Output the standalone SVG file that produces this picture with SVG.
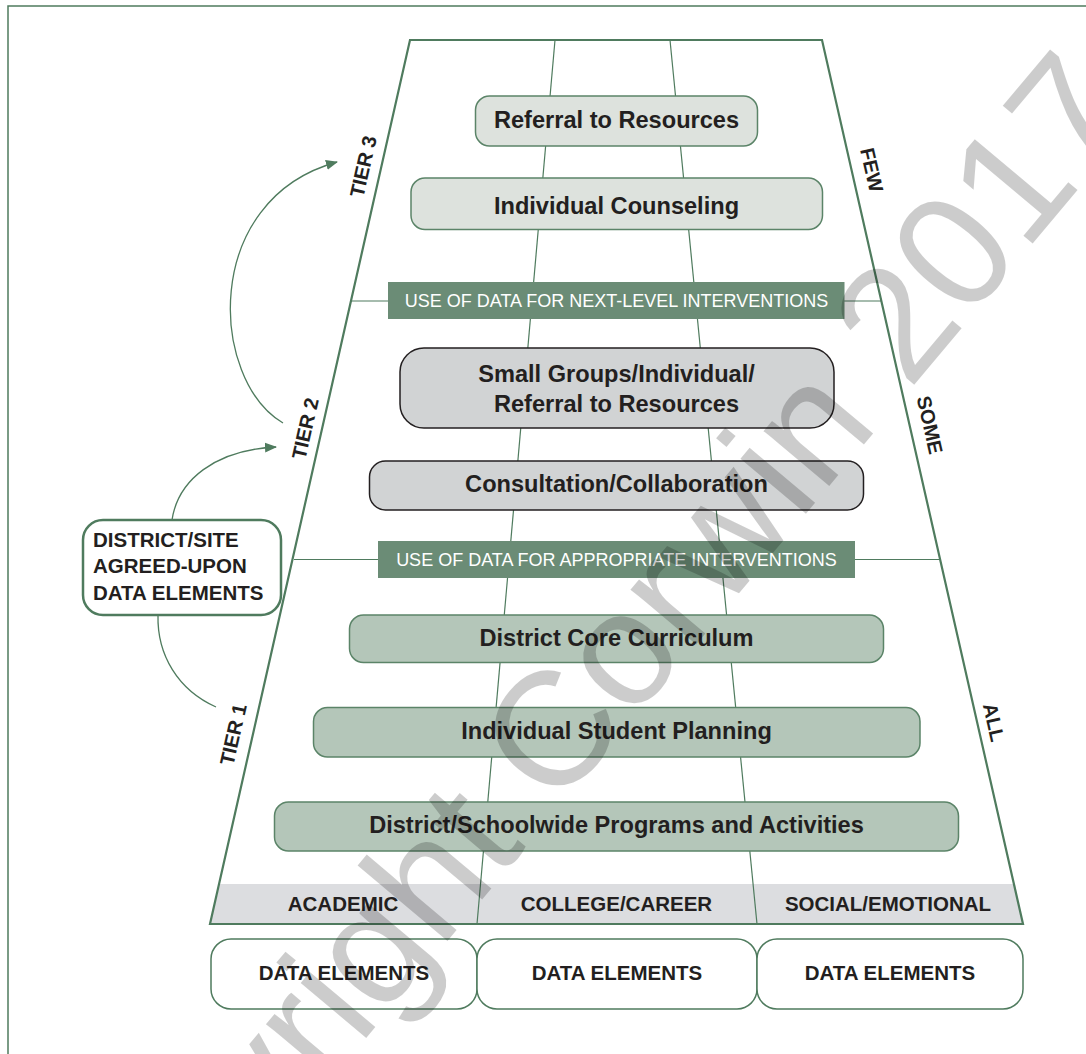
<svg xmlns="http://www.w3.org/2000/svg" width="1086" height="1054" viewBox="0 0 1086 1054">
<defs>
<style>
.g{stroke:#4f7b5e;fill:none}
.t{font-family:"Liberation Sans",Arial,sans-serif;font-weight:bold;fill:#231f20}
.bx{font-size:23.6px;text-anchor:middle}
.lbl{font-size:20.5px;text-anchor:middle}
.tier{font-size:20px;text-anchor:middle}
.use{font-family:"Liberation Sans",Arial,sans-serif;font-size:18px;fill:#ffffff;text-anchor:middle}
.t3{fill:#dde2dd;stroke:#5b8468;stroke-width:1.5}
.t2{fill:#d1d3d4;stroke:#231f20;stroke-width:1.5}
.t1{fill:#b4c6b9;stroke:#5b8468;stroke-width:1.5}
.band{fill:#6b8c76}
.de{fill:#ffffff;stroke:#4f7b5e;stroke-width:1.5}
.wm{font-family:"Liberation Sans",Arial,sans-serif;font-size:162px;fill:#000000;fill-opacity:0.2;text-anchor:middle}
</style>
<marker id="ah" viewBox="0 0 12 10" refX="11" refY="5" markerWidth="12" markerHeight="10" markerUnits="userSpaceOnUse" orient="auto">
<path d="M0,0 L12,5 L0,10 Z" fill="#4f7b5e"/>
</marker>
</defs>
<rect width="1086" height="1054" fill="#ffffff"/>
<path d="M8,1060 L8,6 L1090,6" class="g" stroke-width="1.5"/>

<g id="pyramid">
<polygon points="220,884 1014.9,884 1023,924 210,924" fill="#dcdde0"/>
<line x1="555" y1="40" x2="477" y2="924" class="g" stroke-width="1.2"/>
<line x1="670" y1="40" x2="757" y2="924" class="g" stroke-width="1.2"/>
<line x1="351" y1="301" x2="882" y2="301" class="g" stroke-width="1.2"/>
<line x1="294" y1="559.5" x2="940" y2="559.5" class="g" stroke-width="1.2"/>
<polygon points="410,40 822,40 1023,924 210,924" class="g" stroke-width="2.2" stroke-linejoin="miter"/>
</g>

<g id="connectors">
<path d="M283,423 C210,380 200,200 337,162" class="g" stroke-width="1.3" marker-end="url(#ah)"/>
<path d="M172,520 C178,480 215,450 276,447" class="g" stroke-width="1.3" marker-end="url(#ah)"/>
<path d="M158,615 C157,655 178,690 216,707" class="g" stroke-width="1.3"/>
</g>

<g id="referral">
<rect x="475.5" y="96" width="282" height="50" rx="14" class="t3"/>
<text x="616.5" y="128" class="t bx">Referral to Resources</text>
</g>
<g id="individual-counseling">
<rect x="411" y="178" width="411.5" height="51.5" rx="14" class="t3"/>
<text x="616.5" y="213.5" class="t bx">Individual Counseling</text>
</g>
<g id="next-level">
<rect x="388" y="282" width="456.5" height="37" class="band"/>
<text x="616.5" y="307" class="use">USE OF DATA FOR NEXT-LEVEL INTERVENTIONS</text>
</g>
<g id="small-groups">
<rect x="400" y="348" width="434" height="80" rx="24" class="t2"/>
<text x="616.5" y="382" class="t bx">Small Groups/Individual/</text>
<text x="616.5" y="412" class="t bx">Referral to Resources</text>
</g>
<g id="consultation">
<rect x="369.5" y="461" width="494" height="49" rx="16" class="t2"/>
<text x="616.5" y="492" class="t bx">Consultation/Collaboration</text>
</g>
<g id="appropriate">
<rect x="378" y="541" width="477" height="37" class="band"/>
<text x="616.5" y="566" class="use">USE OF DATA FOR APPROPRIATE INTERVENTIONS</text>
</g>
<g id="core-curriculum">
<rect x="349.5" y="615" width="534" height="47.5" rx="14" class="t1"/>
<text x="616.5" y="645.5" class="t bx">District Core Curriculum</text>
</g>
<g id="student-planning">
<rect x="313.5" y="707.5" width="606.5" height="49.5" rx="14" class="t1"/>
<text x="616.5" y="739" class="t bx">Individual Student Planning</text>
</g>
<g id="schoolwide">
<rect x="274.5" y="802" width="684" height="49" rx="14" class="t1"/>
<text x="616.5" y="833" class="t bx">District/Schoolwide Programs and Activities</text>
</g>

<g id="domains">
<text x="343" y="911" class="t lbl">ACADEMIC</text>
<text x="616.5" y="911" class="t lbl">COLLEGE/CAREER</text>
<text x="888" y="911" class="t lbl">SOCIAL/EMOTIONAL</text>
</g>

<g id="data-academic">
<rect x="211" y="939" width="266" height="70" rx="20" class="de"/>
<text x="344" y="980" class="t lbl">DATA ELEMENTS</text>
</g>
<g id="data-career">
<rect x="477" y="939" width="280" height="70" rx="20" class="de"/>
<text x="617" y="980" class="t lbl">DATA ELEMENTS</text>
</g>
<g id="data-social">
<rect x="757" y="939" width="266" height="70" rx="20" class="de"/>
<text x="890" y="980" class="t lbl">DATA ELEMENTS</text>
</g>

<g id="district-site">
<rect x="83" y="520" width="198" height="95" rx="20" fill="#ffffff" stroke="#4f7b5e" stroke-width="2.5"/>
<text x="93" y="547" class="t" font-size="20.5">DISTRICT/SITE</text>
<text x="93" y="573" class="t" font-size="20.5">AGREED-UPON</text>
<text x="93" y="600" class="t" font-size="20.5">DATA ELEMENTS</text>
</g>

<g id="tier-labels">
<text transform="translate(370,168) rotate(-77.3)" class="t tier">TIER 3</text>
<text transform="translate(312,430) rotate(-77.3)" class="t tier">TIER 2</text>
<text transform="translate(240,736) rotate(-77.3)" class="t tier">TIER 1</text>
<text transform="translate(865,171.5) rotate(77.1)" class="t tier">FEW</text>
<text transform="translate(923,426.5) rotate(77.1)" class="t tier">SOME</text>
<text transform="translate(987,724) rotate(77.1)" class="t tier">ALL</text>
</g>

<text transform="translate(611,746) rotate(-50)" class="wm">Copyright Corwin 2017</text>
</svg>
